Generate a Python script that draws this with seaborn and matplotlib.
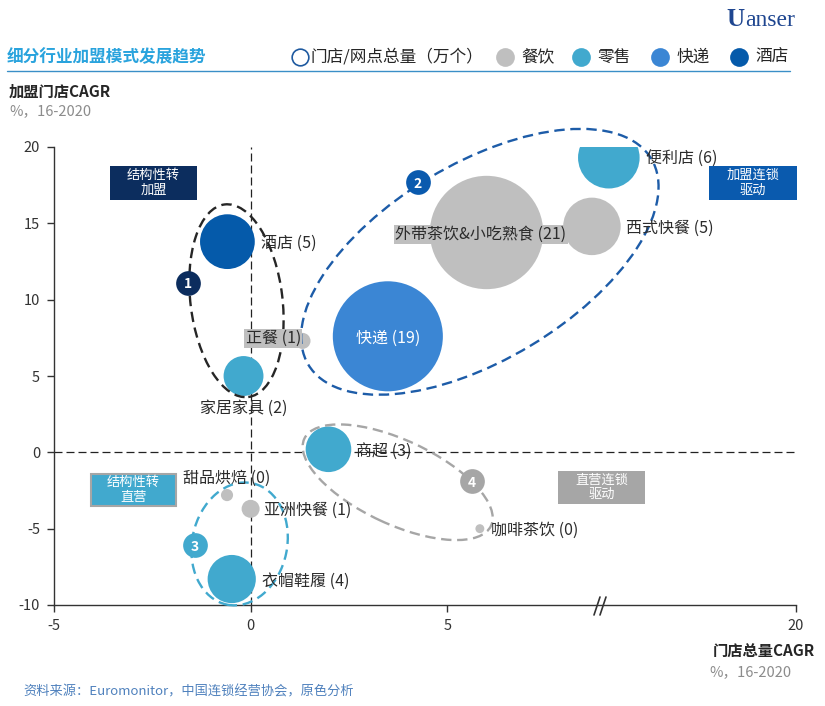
import matplotlib
matplotlib.use("Agg")
import matplotlib.pyplot as plt
import seaborn as sns
import pandas as pd
from matplotlib.patches import Ellipse, Rectangle
from matplotlib.transforms import ScaledTranslation
from matplotlib.lines import Line2D

# ---------------- data ----------------
industries = ["酒店", "家居家具", "正餐", "快递", "外带茶饮&小吃熟食", "西式快餐",
              "便利店", "商超", "甜品烘焙", "亚洲快餐", "衣帽鞋履", "咖啡茶饮"]
sectors = ["酒店", "零售", "餐饮", "快递", "餐饮", "餐饮",
           "零售", "零售", "餐饮", "餐饮", "零售", "餐饮"]
store_cagr = [-0.59, -0.18, 1.32, 3.49, 6.0, 8.68, 9.11, 1.98, -0.6, 0.0, -0.48, 5.83]
franchise_cagr = [13.8, 5.0, 7.3, 7.6, 14.4, 14.8, 19.3, 0.2, -2.8, -3.7, -8.3, -5.0]
store_total = [4.9, 2.6, 0.42, 19.8, 21.0, 5.4, 6.2, 3.4, 0.24, 0.53, 3.8, 0.13]
label_counts = [5, 2, 1, 19, 21, 5, 6, 3, 0, 1, 4, 0]

legend_sectors = ["餐饮", "零售", "快递", "酒店"]
sector_colors = ["#BFBFBF", "#41A9CE", "#3B86D4", "#055AAA"]

x_ticks = [-5, 0, 5, 13.87]
x_tick_labels = ["-5", "0", "5", "20"]
y_ticks = [-10, -5, 0, 5, 10, 15, 20]
y_tick_labels = ["-10", "-5", "0", "5", "10", "15", "20"]

quadrant_texts = ["结构性转\n加盟", "加盟连锁\n驱动", "结构性转\n直营", "直营连锁\n驱动"]
group_numbers = ["1", "2", "3", "4"]

# ---------------- style ----------------
W, H = 825, 706
sns.set_theme(style="white")
plt.rcParams["font.family"] = ["Noto Sans CJK SC", "DejaVu Sans"]
plt.rcParams["axes.unicode_minus"] = False
CJK = ["Noto Sans CJK SC", "DejaVu Sans"]

fig = plt.figure(figsize=(W / 100, H / 100), dpi=100)
fig.patch.set_facecolor("white")
L, R, T, B = 54, 796, 147, 605
ax = fig.add_axes([L / W, 1 - B / H, (R - L) / W, (B - T) / H])
ax.set_facecolor("white")

df = pd.DataFrame({"industry": industries, "sector": sectors, "x": store_cagr,
                   "y": franchise_cagr, "total": store_total})
palette = dict(zip(legend_sectors, sector_colors))
sns.scatterplot(data=df, x="x", y="y", hue="sector", palette=palette,
                size="total", sizes=(0, 6660), size_norm=(0, 21),
                linewidth=0, legend=False, ax=ax, zorder=3)

ax.set_xlim(-5, 13.87)
ax.set_ylim(-10, 20)
ax.set_xticks(x_ticks)
ax.set_xticklabels(x_tick_labels)
ax.set_yticks(y_ticks)
ax.set_yticklabels(y_tick_labels)
ax.set_xlabel("")
ax.set_ylabel("")
for s in ["top", "right"]:
    ax.spines[s].set_visible(False)
for s in ["left", "bottom"]:
    ax.spines[s].set_color("#333333")
    ax.spines[s].set_linewidth(1.0)
ax.tick_params(axis="both", which="both", bottom=True, left=True, length=5,
               width=1, color="#333333", direction="out", labelsize=10.5,
               labelcolor="#333333", pad=5)
ax.grid(False)

# zero reference lines
ax.axhline(0, color="#222222", lw=0.9, ls=(0, (6.4, 3.2)), zorder=1)
ax.axvline(0, color="#222222", lw=0.9, ls=(0, (6.4, 3.2)), zorder=1)

# ---------------- bubble labels ----------------
# (dx, dy in points, ha, text colour, background)
label_layout = [
    (24.5, 0, "left", "#2B2B2B", None),
    (0, -21.6, "center", "#2B2B2B", None),
    (-1, 3, "right", "#2B2B2B", "#BFBFBF"),
    (0, 0, "center", "white", None),
    (-4, 0, "center", "#2B2B2B", "#BFBFBF"),
    (24.5, 0, "left", "#2B2B2B", None),
    (26.6, 0, "left", "#2B2B2B", None),
    (20, 0, "left", "#2B2B2B", None),
    (0, 13.7, "center", "#2B2B2B", None),
    (10, 0, "left", "#2B2B2B", None),
    (21.6, 0, "left", "#2B2B2B", None),
    (8, 0, "left", "#2B2B2B", None),
]
for name, cnt, xv, yv, (dx, dy, ha, tc, bg) in zip(industries, label_counts, store_cagr,
                                                    franchise_cagr, label_layout):
    kw = {}
    if bg:
        kw["bbox"] = dict(boxstyle="square,pad=0.08", fc=bg, ec="none")
    ax.annotate(f"{name} ({cnt})", (xv, yv), xytext=(dx, dy), textcoords="offset points",
                ha=ha, va="center_baseline", fontsize=11.5, color=tc, family=CJK,
                zorder=6, **kw)

# ---------------- dashed group ellipses ----------------
ellipses = [
    (-0.36, 9.93, 92, 194, 7, "#262626"),
    (5.83, 12.48, 400, 196, 31, "#1D5CA8"),
    (-0.28, -6.0, 95, 124, -12, "#41A9CE"),
    (3.74, -1.96, 206, 84, -25, "#A6A6A6"),
]
for cx, cy, w, h, ang, col in ellipses:
    e = Ellipse((0, 0), w, h, angle=ang, fill=False, edgecolor=col, lw=1.7,
                ls=(0, (4.4, 2.4)), clip_on=False,
                transform=ScaledTranslation(cx, cy, ax.transData), zorder=4)
    ax.add_artist(e)

number_pos = [(-1.6, 11.1, "#0C2D5E"), (4.25, 17.7, "#0A5AAE"),
              (-1.42, -6.08, "#41A9CE"), (5.62, -1.9, "#A6A6A6")]
for num, (nx, ny, col) in zip(group_numbers, number_pos):
    ax.plot([nx], [ny], "o", ms=17.8, color=col, mec="none", zorder=7, clip_on=False)
    ax.text(nx, ny, num, ha="center", va="center_baseline", color="white",
            fontsize=10, weight="bold", zorder=8, family=CJK)

# ---------------- quadrant boxes ----------------
def fx(px):
    return px / W

def fy(py):
    return 1 - py / H

boxes = [
    ((110, 166, 197, 200), "#0C2D5E", None),
    ((709, 166, 797, 200), "#0A5AAE", None),
    ((91, 474, 176, 506), "#41A9CE", "#A6A6A6"),
    ((558, 471, 645, 504), "#A6A6A6", None),
]
for txt, ((x0, y0, x1, y1), fc, ec) in zip(quadrant_texts, boxes):
    fig.add_artist(Rectangle((fx(x0), fy(y1)), (x1 - x0) / W, (y1 - y0) / H,
                             transform=fig.transFigure, facecolor=fc,
                             edgecolor=ec if ec else "none", lw=1.5, zorder=5))
    fig.text(fx((x0 + x1) / 2), fy((y0 + y1) / 2), txt, ha="center", va="center",
             color="white", fontsize=9.5, linespacing=1.15, zorder=6, family=CJK)

# axis break mark
for off in (0, 6):
    fig.add_artist(Line2D([fx(594 + off), fx(600 + off)], [fy(615), fy(597)],
                          color="#333333", lw=1.2, zorder=6))

# ---------------- header / legend / titles ----------------
fig.text(fx(7), fy(57), "细分行业加盟模式发展趋势", color="#29A3DD", fontsize=12,
         weight="bold", va="center", family=CJK)
fig.add_artist(Line2D([fx(7), fx(790)], [fy(71), fy(71)], color="#3A8FC7", lw=1.0))
fig.text(fx(726), fy(20), "U", ha="left", va="center", fontsize=18, weight="bold",
         color="#1F4690", family=["Liberation Serif", "DejaVu Serif"])
fig.text(fx(795), fy(20), "anser", ha="right", va="center", fontsize=17,
         color="#1F4690", family=["Liberation Serif", "DejaVu Serif"])

fig.add_artist(Line2D([fx(300)], [fy(57)], marker="o", ms=12, mfc="white",
                      mec="#1F5AA0", mew=1.2, ls="none"))
fig.text(fx(311), fy(57), "门店/网点总量（万个）", fontsize=12, va="center",
         color="#262626", family=CJK)
legend_dot_x = [505, 581, 660, 739]
for lab, col, lx in zip(legend_sectors, sector_colors, legend_dot_x):
    fig.add_artist(Line2D([fx(lx)], [fy(57)], marker="o", ms=13.5, mfc=col,
                          mec="none", ls="none"))
    fig.text(fx(lx + 16), fy(57), lab, fontsize=12, va="center", color="#262626",
             family=CJK)

fig.text(fx(9), fy(92), "加盟门店CAGR", fontsize=11, weight="bold", va="center",
         color="#262626", family=CJK)
fig.text(fx(9), fy(111), "%，16-2020", fontsize=10.5, va="center", color="#8C8C8C",
         family=CJK)
fig.text(fx(815), fy(652), "门店总量CAGR", fontsize=11, weight="bold", va="center",
         ha="right", color="#262626", family=CJK)
fig.text(fx(709), fy(672), "%，16-2020", fontsize=10.5, va="center", color="#8C8C8C",
         family=CJK)
fig.text(fx(23), fy(692), "资料来源：Euromonitor，中国连锁经营协会，原色分析",
         fontsize=9.5, va="center", color="#4F81BD", family=CJK)

fig.savefig("out.png", dpi=100, facecolor="white")
